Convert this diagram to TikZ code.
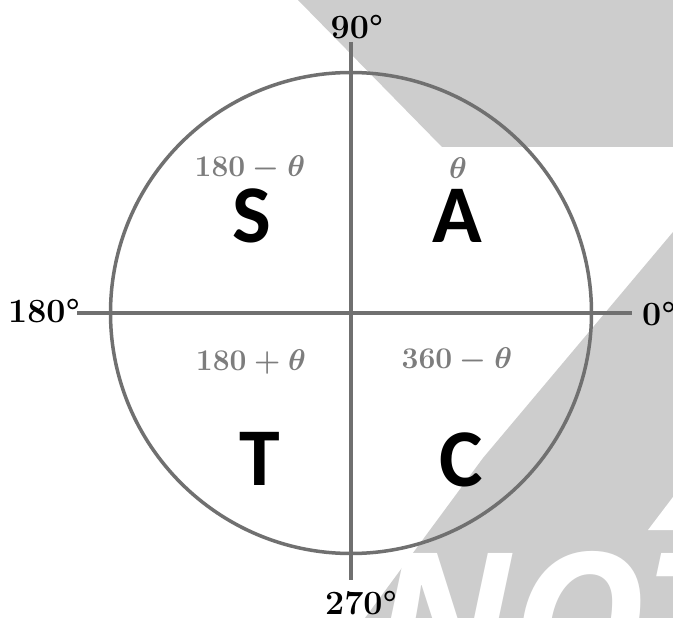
\RequirePackage{fix-cm}
\documentclass[tikz,border=0pt]{standalone}
\usepackage{amsmath,bm}
\usepackage{fontspec}
\newfontfamily\calib{Carlito}
\newfontfamily\wmfont{Open Sans}
\definecolor{wm}{RGB}{205,205,205}
\definecolor{ax}{RGB}{112,112,112}
\definecolor{fg}{RGB}{125,125,125}
\begin{document}
\begin{tikzpicture}[x=1pt,y=-1pt,
  axis/.style={draw=ax,line width=3.5pt},
  quad/.style={font=\calib\bfseries\fontsize{82}{82}\selectfont,text=black,inner sep=0pt},
  frm/.style={text=fg,font=\fontsize{30}{30}\selectfont\boldmath,inner sep=0pt},
  deg/.style={font=\fontsize{34}{34}\selectfont\bfseries,text=black,inner sep=0pt}]
\useasboundingbox (0,0) rectangle (673,618);
\fill[white] (0,0) rectangle (673,618);
% watermark
\fill[wm] (298,0) -- (673,0) -- (673,147) -- (442,147) -- cycle;
\fill[wm] (673,232) -- (673,618) -- (365,618) -- (483,458) -- cycle;
\begin{scope}
\clip (0,0) rectangle (673,618);
\node[anchor=base west,text=white,inner sep=0pt,font=\wmfont\bfseries\itshape\fontsize{185}{185}\selectfont] (wmtext) at (372,685) {NOT};
\fill[white] (648,530) -- (673,530) -- (673,497) -- cycle;
\end{scope}
% circle and axes
\node[circle,draw=ax,line width=3.5pt,minimum size=481pt,inner sep=0pt] (circ) at (351,313) {};
\coordinate (vtop) at (351,42);
\coordinate (vbot) at (351,580);
\coordinate (hl) at (77,313);
\coordinate (hr) at (632,313);
\draw[axis] (vtop) -- (vbot);
\draw[axis] (hl) -- (hr);
% degree labels
\node[deg] (d90) at (357,27) {90°};
\node[deg,anchor=west] (d0) at (642,314) {0°};
\node[deg] (d180) at (44,311) {180°};
\node[deg] (d270) at (361,603) {270°};
% formulas
\node[frm] (f2) at (250,168) {$180-\theta$};
\node[frm] (f1) at (458,168) {$\theta$};
\node[frm] (f3) at (251,362) {$180+\theta$};
\node[frm] (f4) at (457,360) {$360-\theta$};
% quadrant letters
\node[quad] (qs) at (252,216) {S};
\node[quad] (qa) at (457,216) {A};
\node[quad] (qt) at (260,459) {T};
\node[quad] (qc) at (461,460) {C};
\end{tikzpicture}
\end{document}
